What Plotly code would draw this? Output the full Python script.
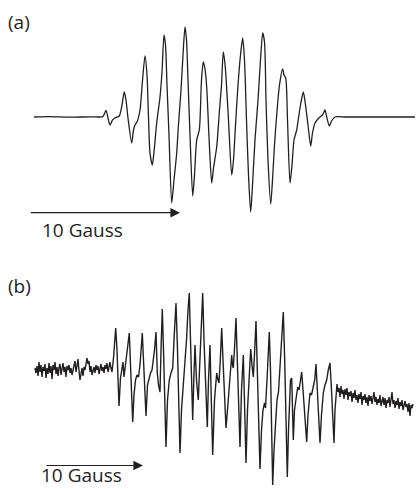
import plotly.graph_objects as go

# ---------------- data (field in arbitrary field units, intensity in arb. units) -------------
# (a) simulated spectrum: key points of the derivative trace
field_a = [34, 50, 70, 90, 100, 103, 106, 108, 110, 112.5, 115, 117, 119.3, 122, 124.3, 126, 128,
           131.7, 133.5, 135, 137, 140, 142.3, 145, 147, 148.5, 150, 152.3, 154, 156.7, 160, 162,
           164, 165.5, 167, 169, 171.7, 174, 176.7, 178.3, 181, 183, 185, 186.5, 188, 190, 192.7,
           194.5, 196.7, 199.3, 201.5, 203.3, 205, 206.7, 209, 211.7, 213.5, 216.7, 219.5, 221.5,
           223.3, 224.8, 226, 228.5, 231.7, 233.5, 235.5, 238, 240.5, 242.7, 244.5, 246.5, 248.5,
           250.7, 252.5, 255, 258, 260.5, 262.7, 264.5, 266, 268, 270.7, 272.5, 274.5, 276.7, 279.5,
           282.7, 284, 285.7, 287.5, 290, 292, 294, 296.7, 298.5, 300.5, 303.3, 305.5, 308, 310.7,
           312.5, 315, 318, 320, 322.5, 325, 326.5, 329.3, 331.5, 335, 345, 360, 380, 400, 415]
int_a = [0, 0.3, -0.2, 0.2, 0, 0.5, 6.5, -1, -8, -3, -1, 0, 1, 12, 25, 17, -1,
         -26, -13, -8, -5, 7, 34, 61, 42, 0, -36, -48, -35, -6, 20, 45,
         82, 72, 32, -18, -86, -63, -36, -10, 27, 62, 90, 77, 37, -18, -79,
         -58, -23, -13, 37, 55, 48, 30, -20, -66, -51, -30, 7, 32,
         65, 55, 40, -3, -58, -43, -8, 32, 62, 79, 57, -3, -58,
         -95, -68, -23, 17, 57, 84, 75, 17, -43, -87, -63, -28, 2, 32,
         48, 42, 39, -3, -66, -48, -23, -13, -1, 12, 25, 12, -8, -29,
         -16, -6, -2, 0, 2, 7, 1, -9, -4, 0, 0, 0, 0, 0, 0]

# (b) experimental spectrum: noisy baseline + derivative lines
field_b = list(range(35, 112)) + [
    112, 113.5, 115.7, 117, 118, 119, 120.5, 122, 123, 124, 125, 126.5, 128, 129.3, 130.5, 132.7,
    134, 135.5, 137, 138.5, 140, 141, 142.3, 143.5, 146, 147.5, 149, 150.5, 152, 153.3, 154.5,
    156, 157.3, 158.5, 160, 161, 162.3, 163.5, 164.5, 166, 167.5, 169.3, 171, 172.7, 174, 176,
    177.5, 178.7, 180, 181.5, 182.7, 184, 185, 186.5, 188, 189.3, 190.5, 191.5, 192.7, 193.8,
    195, 196.5, 198.3, 199.5, 200.7, 202.7, 204, 205.5, 207.3, 208.5, 210, 211.3, 212.7, 214.5,
    216.7, 218, 219, 220.3, 221.7, 223, 224.5, 226, 227.5, 229, 230.5, 231.7, 232.5, 233.3,
    234.7, 236, 237.3, 238.5, 240, 241.5, 243.3, 244.7, 246, 247.5, 249, 250.7, 252, 253.3,
    254.7, 256, 257.3, 258.7, 260, 261.5, 263, 264.5, 265.5, 267, 268, 269.3, 270.5, 271.7,
    272.7, 274, 275.5, 277, 278.5, 280, 281.7, 283.3, 284.7, 286, 287.3, 288.5, 289.5, 290.5,
    291.7, 292.5, 293.3, 294.5, 296, 297.7, 299, 300.5, 301.7, 303, 304.5, 306.7, 308, 310,
    311.5, 313.3, 314.7, 316, 317.5, 318.7, 320, 321.5, 323.3, 325, 326.7, 328.3, 330, 331.5,
    332.7, 334, 335] + list(range(336, 414))
int_b = [2, -3, 4, -6, 8, -2, 5, -7, 3, -1, 6, -8, 2, -4, 7, -3, 4, -9, 5, 0, 8, -4, 3, -6, 2,
         6, -5, 1, 7, -2, 3, -7, 4, 0, 5, -3, 2, -5, 1, 4, 9, -2, 3, 11, -1, -10, -4, 2, -6, 3,
         0, 7, 12, 6, 9, -2, 4, -5, 1, 3, -3, 5, 0, 4, -4, 2, 6, -1, 3, -3, 5, 1, 7, -2, 4, 8, 2,
         -2, 12, 42, 20, -10, -36, -8, 3, 8, -7, 2, 10, 25, 37, 5, -52,
         -25, -10, -5, -7, 5, 20, 37, 10, -46, -15, -8, -3, 0, 10, 20,
         38, -3, -15, -22, 20, 61, 20, -30, -77, -30, -10, -3, 2, 30, 67,
         20, -40, -83, -40, -23, -8, 3, 30, 60, 77, 30, -20, -50, -10,
         25, -10, -30, 0, 28, 77, 30, -20, -57, -10, 25, -30, -85, -30,
         -3, -10, -13, 10, 42, 10, -30, -58, -40, -20, 0, 15, 5, 2,
         25, 52, 10, -40, -77, -20, 15, -40, -93, -40, -10, 21, 5, -7,
         20, 49, 0, -60, -99, -60, -40, -33, -38, -10, 15, 38, 0, -60,
         -115, -80, -50, -30, -22, 0, 30, 58, 10, -60, -107, -60, -30, -10,
         -8, -30, -70, -40, -27, -17, -20, -8, -2, -20, -45, -72, -45, -23,
         -25, -17, -10, 6, -25, -55, -73, -45, -23, -15, -10, 0, 7, -20,
         -50, -73, -40,
         -20, -14, -22, -18, -27, -16, -24, -20, -29, -19, -25, -18, -30, -22, -26, -21, -32, -23,
         -28, -20, -30, -25, -33, -24, -29, -22, -35, -26, -30, -24, -33, -27, -36, -25, -31, -26,
         -34, -28, -22, -32, -27, -35, -29, -33, -25, -36, -30, -27, -35, -28, -38, -30, -33, -27,
         -37, -31, -22, -34, -30, -38, -31, -35, -28, -39, -32, -36, -30, -40, -33, -31, -37, -34,
         -42, -33, -46, -35, -38, -34]

panel_labels = ["(a)", "(b)"]
scale_label = "10 Gauss"

# ---------------- figure ----------------
W, H = 416, 489
split = 240 / H  # fraction of height used by panel (b)

fig = go.Figure()
fig.add_trace(go.Scatter(x=field_a, y=int_a, mode="lines",
                         line=dict(color="#231f20", width=1.3, shape="spline", smoothing=0.7),
                         xaxis="x", yaxis="y", hoverinfo="skip"))
fig.add_trace(go.Scatter(x=field_b, y=int_b, mode="lines",
                         line=dict(color="#231f20", width=1.4),
                         xaxis="x2", yaxis="y2", hoverinfo="skip"))

ax_common = dict(visible=False, showgrid=False, zeroline=False, fixedrange=True)
fig.update_layout(
    width=W, height=H,
    margin=dict(l=0, r=0, t=0, b=0),
    paper_bgcolor="white", plot_bgcolor="white",
    showlegend=False,
    xaxis=dict(range=[0, 416], domain=[0, 1], anchor="y", **ax_common),
    yaxis=dict(range=[-123, 117], domain=[1 - split, 1], anchor="x", **ax_common),
    xaxis2=dict(range=[0, 416], domain=[0, 1], anchor="y2", **ax_common),
    yaxis2=dict(range=[-119, 130], domain=[0, 1 - split], anchor="x2", **ax_common),
)

font = dict(family="Open Sans, Noto Sans, sans-serif", size=19, color="#231f20")
ann = []
# panel labels
ann.append(dict(x=6, y=95, xref="x", yref="y", text=panel_labels[0], showarrow=False,
                xanchor="left", yanchor="middle", font=font))
ann.append(dict(x=6, y=84, xref="x2", yref="y2", text=panel_labels[1], showarrow=False,
                xanchor="left", yanchor="middle", font=font))
# scale arrows
ann.append(dict(x=180, y=-95.7, ax=29.3, ay=-95.7, xref="x", yref="y", axref="x", ayref="y",
                text="", showarrow=True, arrowhead=2, arrowsize=1.6, arrowwidth=1.2,
                arrowcolor="#231f20", standoff=0))
ann.append(dict(x=143, y=-95.5, ax=45, ay=-95.5, xref="x2", yref="y2", axref="x2", ayref="y2",
                text="", showarrow=True, arrowhead=2, arrowsize=1.6, arrowwidth=1.2,
                arrowcolor="#231f20", standoff=0))
# scale texts
ann.append(dict(x=40, y=-113, xref="x", yref="y", text=scale_label, showarrow=False,
                xanchor="left", yanchor="middle", font=font))
ann.append(dict(x=40, y=-119, xref="x2", yref="y2", text=scale_label, showarrow=False,
                xanchor="left", yanchor="bottom", borderpad=0, font=font))
fig.update_layout(annotations=ann)

fig.write_html("out.html", config={"displayModeBar": False},
               post_script="document.body.style.margin='0';")
